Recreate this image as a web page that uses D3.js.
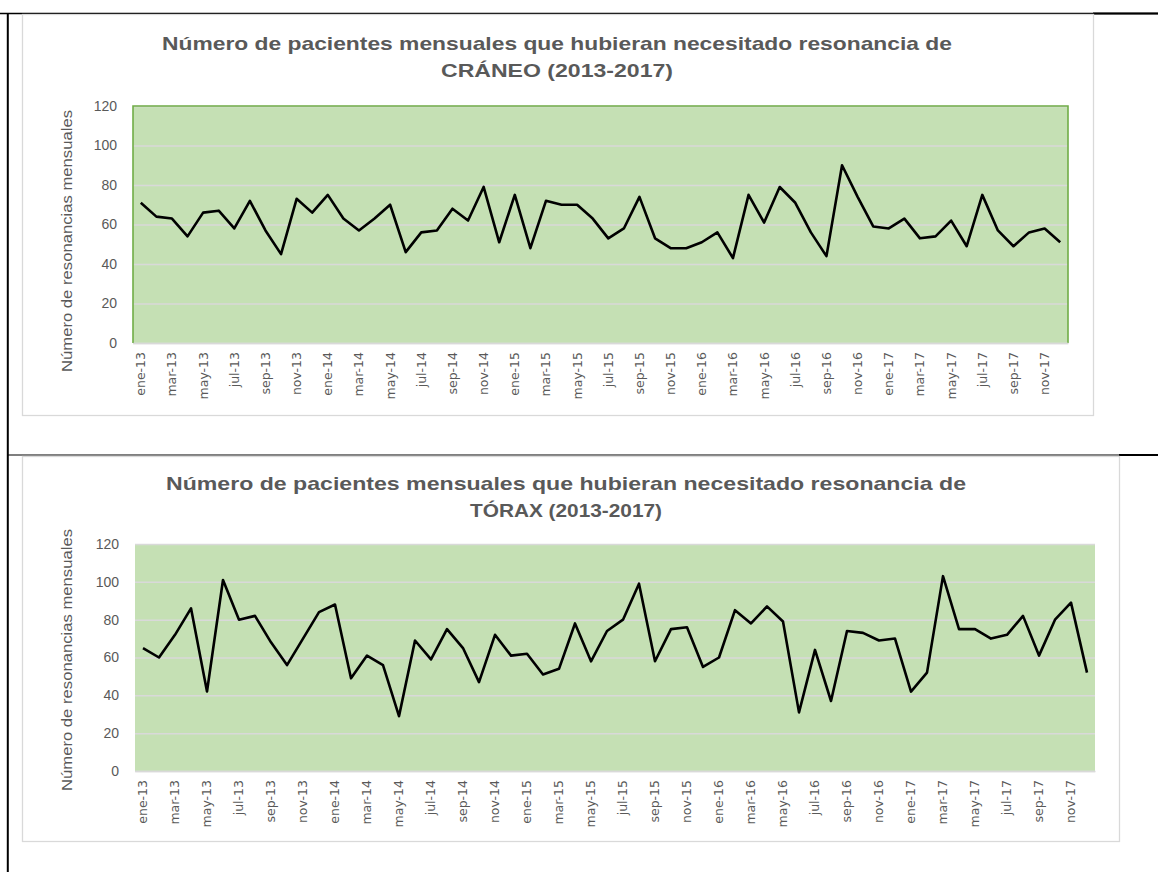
<!DOCTYPE html>
<html>
<head>
<meta charset="utf-8">
<script src="https://cdn.jsdelivr.net/npm/d3@7/dist/d3.min.js"></script>
<style>
  html, body { margin: 0; padding: 0; background: #fff; }
  svg { display: block; }
</style>
</head>
<body>
<div id="chart"></div>
<script>
// month names as Excel shows them (mmm-yy, Spanish)
var monthNames = ["ene", "feb", "mar", "abr", "may", "jun", "jul", "ago", "sep", "oct", "nov", "dic"];
var years = ["13", "14", "15", "16", "17"];
var months = [];
years.forEach(function (y) {
  monthNames.forEach(function (m) { months.push(m + "-" + y); });
});

var yTicks = [0, 20, 40, 60, 80, 100, 120];

// values
var craneoValues = [71, 64, 63, 54, 66, 67, 58, 72, 57, 45, 73, 66,
  75, 63, 57, 63, 70, 46, 56, 57, 68, 62, 79, 51,
  75, 48, 72, 70, 70, 63, 53, 58, 74, 53, 48, 48,
  51, 56, 43, 75, 61, 79, 71, 56, 44, 90, 74, 59,
  58, 63, 53, 54, 62, 49, 75, 57, 49, 56, 58, 51];

var toraxValues = [65, 60, 72, 86, 42, 101, 80, 82, 68, 56, 70, 84,
  88, 49, 61, 56, 29, 69, 59, 75, 65, 47, 72, 61,
  62, 51, 54, 78, 58, 74, 80, 99, 58, 75, 76, 55,
  60, 85, 78, 87, 79, 31, 64, 37, 74, 73, 69, 70,
  42, 52, 103, 75, 75, 70, 72, 82, 61, 80, 89, 52];

var titleLine1 = "Número de pacientes mensuales que hubieran necesitado resonancia de";
var yTitle = "Número de resonancias mensuales";

var W = 1158, H = 872;
var textGray = "#595959";

var svg = d3.select("#chart").append("svg")
  .attr("width", W)
  .attr("height", H);

// page frame (table lines of the document)
svg.append("line").attr("x1", 0).attr("x2", W).attr("y1", 13.5).attr("y2", 13.5)
  .attr("stroke", "#000").attr("stroke-width", 1.5);
svg.append("line").attr("x1", 1093).attr("x2", W).attr("y1", 13.5).attr("y2", 13.5)
  .attr("stroke", "#000").attr("stroke-width", 2.2);
svg.append("line").attr("x1", 7).attr("x2", W).attr("y1", 455).attr("y2", 455)
  .attr("stroke", "#000").attr("stroke-width", 1.2);
svg.append("line").attr("x1", 1119).attr("x2", W).attr("y1", 455).attr("y2", 455)
  .attr("stroke", "#000").attr("stroke-width", 2.2);
svg.append("line").attr("x1", 7.8).attr("x2", 7.8).attr("y1", 13).attr("y2", H)
  .attr("stroke", "#000").attr("stroke-width", 2);

function drawChart(cfg) {
  var g = svg.append("g");

  // chart area border
  g.append("rect")
    .attr("x", cfg.box[0] + 0.5).attr("y", cfg.box[1] + 0.5)
    .attr("width", cfg.box[2] - cfg.box[0]).attr("height", cfg.box[3] - cfg.box[1])
    .attr("fill", "#fff").attr("stroke", "#d9d9d9").attr("stroke-width", 1.3);

  var x = d3.scaleBand().domain(months).range([cfg.left, cfg.right]).padding(0);
  var y = d3.scaleLinear().domain([0, 120]).range([cfg.bottom, cfg.top]);
  var cx = function (d) { return x(d) + x.bandwidth() / 2; };

  // plot area fill
  g.append("rect")
    .attr("x", cfg.left).attr("y", cfg.top)
    .attr("width", cfg.right - cfg.left).attr("height", cfg.bottom - cfg.top)
    .attr("fill", "#c5e0b4");

  // gridlines
  g.append("g")
    .attr("transform", "translate(" + cfg.left + ",0)")
    .call(d3.axisLeft(y).tickValues(yTicks).tickSize(-(cfg.right - cfg.left)).tickFormat(""))
    .call(function (a) {
      a.select(".domain").remove();
      a.selectAll("line").attr("stroke", "#d9d9d9").attr("stroke-width", 1.5);
    });

  if (cfg.greenBorder) {
    g.append("path")
      .attr("d", "M" + cfg.left + "," + cfg.bottom + "V" + cfg.top + "H" + cfg.right + "V" + cfg.bottom)
      .attr("fill", "none").attr("stroke", "#70ad47").attr("stroke-width", 1.6);
  }

  // y tick labels
  g.append("g")
    .attr("transform", "translate(" + (cfg.left - 16) + ",0)")
    .call(d3.axisLeft(y).tickValues(yTicks).tickSize(0).tickPadding(0))
    .call(function (a) {
      a.select(".domain").remove();
      a.selectAll("text")
        .attr("fill", textGray)
        .style("font-family", "'Liberation Sans', Arial, sans-serif")
        .style("font-size", "14px");
    });

  // x axis labels, every second month
  g.append("g")
    .attr("transform", "translate(0," + cfg.bottom + ")")
    .call(d3.axisBottom(x).tickValues(months.filter(function (d, i) { return i % 2 === 0; }))
      .tickSize(0).tickPadding(0))
    .call(function (a) {
      a.select(".domain").attr("stroke", "#d9d9d9").attr("stroke-width", 1.5);
      a.selectAll("text")
        .attr("transform", "rotate(-90)")
        .attr("text-anchor", "end")
        .attr("x", -9)
        .attr("y", 0)
        .attr("dy", "0.35em")
        .attr("fill", textGray)
        .style("font-family", "'DejaVu Sans', sans-serif")
        .style("font-size", "12.5px");
    });

  // the series line
  var line = d3.line()
    .x(function (d, i) { return cx(months[i]); })
    .y(function (d) { return y(d); });

  g.append("path")
    .datum(cfg.values)
    .attr("d", line)
    .attr("fill", "none")
    .attr("stroke", "#000")
    .attr("stroke-width", 2.6)
    .attr("stroke-linejoin", "round");

  // titles
  var titleFont = "'Liberation Sans', Arial, sans-serif";
  g.append("text")
    .attr("x", cfg.titleX).attr("y", cfg.titleY[0])
    .attr("text-anchor", "middle")
    .attr("textLength", cfg.titleLen[0]).attr("lengthAdjust", "spacingAndGlyphs")
    .attr("fill", textGray)
    .style("font-family", titleFont).style("font-weight", "bold").style("font-size", "19px")
    .text(titleLine1);
  g.append("text")
    .attr("x", cfg.titleX).attr("y", cfg.titleY[1])
    .attr("text-anchor", "middle")
    .attr("textLength", cfg.titleLen[1]).attr("lengthAdjust", "spacingAndGlyphs")
    .attr("fill", textGray)
    .style("font-family", titleFont).style("font-weight", "bold").style("font-size", "19px")
    .text(cfg.title2);

  // y axis title
  g.append("text")
    .attr("transform", "translate(" + cfg.yTitlePos[0] + "," + cfg.yTitlePos[1] + ") rotate(-90)")
    .attr("text-anchor", "middle")
    .attr("dy", "0.35em")
    .attr("textLength", 262).attr("lengthAdjust", "spacingAndGlyphs")
    .attr("fill", textGray)
    .style("font-family", "'Liberation Sans', Arial, sans-serif")
    .style("font-size", "15px")
    .text(yTitle);
}

drawChart({
  values: craneoValues,
  title2: "CRÁNEO (2013-2017)",
  box: [22, 14, 1093, 415],
  left: 133, right: 1068, top: 106, bottom: 343,
  greenBorder: true,
  titleX: 557, titleY: [50, 77], titleLen: [790, 232],
  yTitlePos: [67, 241]
});

drawChart({
  values: toraxValues,
  title2: "TÓRAX (2013-2017)",
  box: [22, 456, 1119, 841],
  left: 135, right: 1095, top: 544, bottom: 771,
  greenBorder: false,
  titleX: 566, titleY: [490, 517], titleLen: [800, 192],
  yTitlePos: [67, 660]
});
</script>
</body>
</html>
